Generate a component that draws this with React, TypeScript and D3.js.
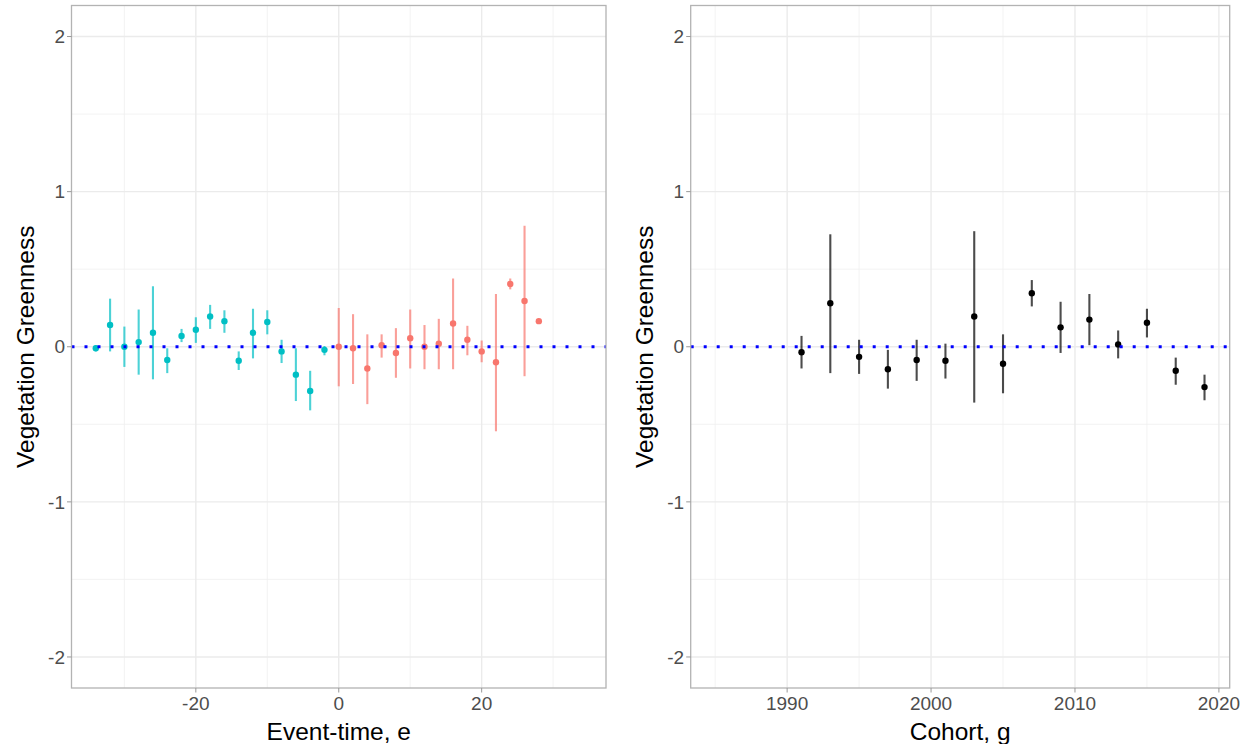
import React from "react";
import * as d3 from "d3";

const eventTime = [-34,-32,-30,-28,-26,-24,-22,-20,-18,-16,-14,-12,-10,-8,-6,-4,-2,0,2,4,6,8,10,12,14,16,18,20,22,24,26,28];
const eventEst = [-0.01,0.14,0.0,0.03,0.09,-0.085,0.07,0.11,0.195,0.165,-0.09,0.09,0.16,-0.03,-0.18,-0.285,-0.02,0.0,-0.01,-0.14,0.01,-0.04,0.055,0.0,0.02,0.15,0.045,-0.03,-0.1,0.405,0.295,0.165];
const eventLo = [-0.03,-0.03,-0.13,-0.18,-0.21,-0.17,0.03,0.025,0.115,0.09,-0.15,-0.075,0.08,-0.105,-0.35,-0.41,-0.055,-0.255,-0.24,-0.37,-0.07,-0.2,-0.14,-0.145,-0.145,-0.145,-0.055,-0.1,-0.545,0.37,-0.19,0.165];
const eventHi = [0.01,0.31,0.13,0.24,0.39,-0.01,0.115,0.19,0.27,0.235,-0.03,0.245,0.235,0.045,-0.01,-0.155,0.005,0.25,0.21,0.08,0.08,0.12,0.24,0.14,0.18,0.44,0.135,0.04,0.34,0.44,0.78,0.165];

const cohortYear = [1991,1993,1995,1997,1999,2001,2003,2005,2007,2009,2011,2013,2015,2017,2019];
const cohortEst = [-0.035,0.28,-0.065,-0.145,-0.085,-0.09,0.195,-0.11,0.345,0.125,0.175,0.015,0.155,-0.155,-0.26];
const cohortLo = [-0.14,-0.17,-0.175,-0.27,-0.22,-0.205,-0.36,-0.3,0.26,-0.04,0.01,-0.075,0.06,-0.245,-0.345];
const cohortHi = [0.07,0.725,0.045,-0.02,0.045,0.02,0.745,0.08,0.43,0.29,0.34,0.105,0.245,-0.07,-0.18];

const yTicks = [-2, -1, 0, 1, 2];
const yMinor = [-1.5, -0.5, 0.5, 1.5];
const eventTicks = [-20, 0, 20];
const eventMinor = [-30, -10, 10, 30];
const cohortTicks = [1990, 2000, 2010, 2020];
const cohortMinor = [1985, 1995, 2005, 2015];

const FONT = "'Liberation Sans', Arial, Helvetica, sans-serif";
const TOP = 5.5, BOTTOM = 688;

type PanelProps = {
  left: number; right: number; domain: [number, number];
  xs: number[]; est: number[]; lo: number[]; hi: number[];
  colorOf: (x: number) => string; majors: number[]; minors: number[];
  xTitle: string;
};

function Panel({ left, right, domain, xs, est, lo, hi, colorOf, majors, minors, xTitle }: PanelProps) {
  const x = d3.scaleLinear().domain(domain).range([left, right]);
  const y = d3.scaleLinear().domain([-2.2, 2.2]).range([BOTTOM, TOP]);
  const tickCol = "#4d4d4d";
  return (
    <g>
      {yMinor.map((v) => (
        <line key={"ym" + v} x1={left} x2={right} y1={y(v)} y2={y(v)} stroke="#f0f0f0" strokeWidth={0.8} />
      ))}
      {minors.map((v) => (
        <line key={"xm" + v} x1={x(v)} x2={x(v)} y1={TOP} y2={BOTTOM} stroke="#f0f0f0" strokeWidth={0.8} />
      ))}
      {yTicks.map((v) => (
        <line key={"yM" + v} x1={left} x2={right} y1={y(v)} y2={y(v)} stroke="#ebebeb" strokeWidth={1.4} />
      ))}
      {majors.map((v) => (
        <line key={"xM" + v} x1={x(v)} x2={x(v)} y1={TOP} y2={BOTTOM} stroke="#ebebeb" strokeWidth={1.4} />
      ))}
      {xs.map((v, i) => (
        <line key={"eb" + i} x1={x(v)} x2={x(v)} y1={y(lo[i])} y2={y(hi[i])}
          stroke={colorOf(v)} strokeOpacity={0.7} strokeWidth={2.1} />
      ))}
      {xs.map((v, i) => (
        <circle key={"pt" + i} cx={x(v)} cy={y(est[i])} r={3.2} fill={colorOf(v)} />
      ))}
      <line x1={left} x2={right} y1={y(0)} y2={y(0)} stroke="#0000ff" strokeWidth={3} strokeDasharray="3 10" />
      <rect x={left} y={TOP} width={right - left} height={BOTTOM - TOP} fill="none" stroke="#b3b3b3" strokeWidth={1.3} />
      {yTicks.map((v) => (
        <g key={"yt" + v}>
          <line x1={left - 4.5} x2={left} y1={y(v)} y2={y(v)} stroke="#999" strokeWidth={1} />
          <text x={left - 6.5} y={y(v)} dy="0.35em" textAnchor="end" fontSize={19} fill={tickCol} fontFamily={FONT}>{v}</text>
        </g>
      ))}
      {majors.map((v) => (
        <g key={"xt" + v}>
          <line x1={x(v)} x2={x(v)} y1={BOTTOM} y2={BOTTOM + 4.5} stroke="#999" strokeWidth={1} />
          <text x={x(v)} y={710} textAnchor="middle" fontSize={19} fill={tickCol} fontFamily={FONT}>{v}</text>
        </g>
      ))}
      <text x={(left + right) / 2} y={740} textAnchor="middle" fontSize={24.5} fill="#000" fontFamily={FONT}>{xTitle}</text>
      <text transform={`translate(${left - 37.5},${(TOP + BOTTOM) / 2}) rotate(-90)`} textAnchor="middle"
        fontSize={24.5} fill="#000" fontFamily={FONT}>Vegetation Greenness</text>
    </g>
  );
}

export default function App() {
  return (
    <svg width={1247} height={744} style={{ position: "absolute", left: 0, top: 0, background: "#fff" }}>
      <rect x={0} y={0} width={1247} height={744} fill="#fff" />
      <Panel left={71.5} right={606} domain={[-37.4, 37.4]} xs={eventTime} est={eventEst} lo={eventLo} hi={eventHi}
        colorOf={(v) => (v < 0 ? "#00BFC4" : "#F8766D")} majors={eventTicks} minors={eventMinor} xTitle="Event-time, e" />
      <Panel left={690.7} right={1229.7} domain={[1983.3, 2020.75]} xs={cohortYear} est={cohortEst} lo={cohortLo} hi={cohortHi}
        colorOf={() => "#000000"} majors={cohortTicks} minors={cohortMinor} xTitle="Cohort, g" />
    </svg>
  );
}
